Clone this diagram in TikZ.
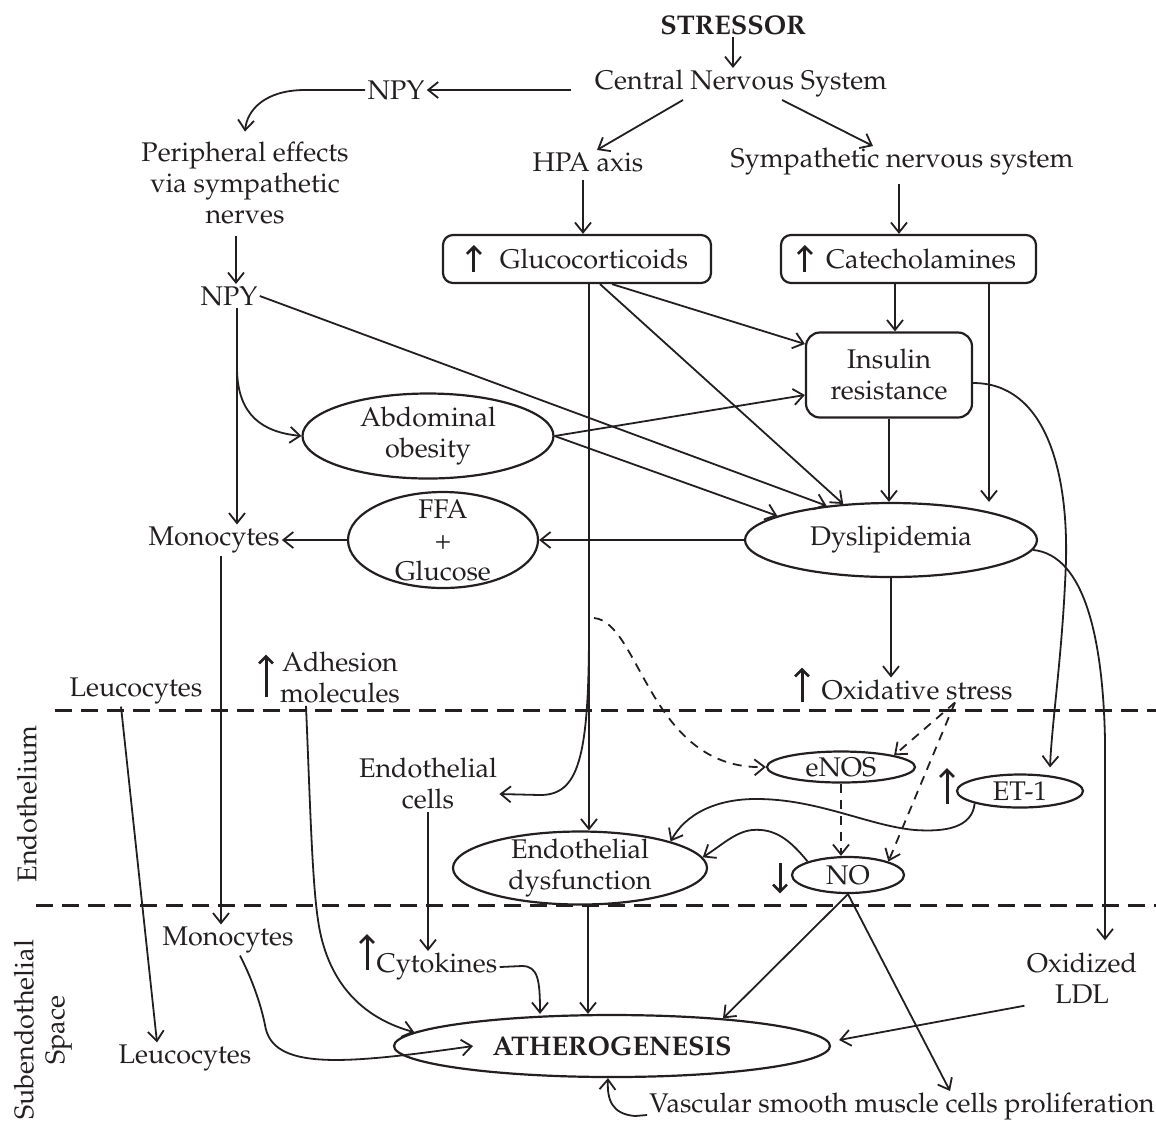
\documentclass[tikz,border=0pt]{standalone}
\usepackage[T1]{fontenc}
\usepackage{mathpazo}
\usepackage{amsmath}
\usetikzlibrary{shapes.geometric,arrows.meta}
\definecolor{ink}{RGB}{35,31,32}
\newcommand{\DiagFont}{\fontsize{13.5}{15.5}\selectfont}

\begin{document}
\begin{tikzpicture}[x=0.5pt,y=-0.5pt]
  \tikzset{TextStyle/.style = {
    shape         = rectangle,
    align         = center,
    text          = ink,
    inner sep     = 1pt,
    font          = \DiagFont
    }
  }
  \tikzset{BoxStyle/.style = {
    shape           = rectangle,
    rounded corners = 5pt,
    draw            = ink,
    line width      = 1.1pt,
    align           = center,
    text            = ink,
    inner sep       = 0pt,
    font            = \DiagFont
    }
  }
  \tikzset{EllipseStyle/.style = {
    shape         = ellipse,
    draw          = ink,
    line width    = 1.1pt,
    text          = ink,
    inner sep     = 0pt,
    font          = \DiagFont
    }
  }
  \tikzset{SlotStyle/.style = {
    shape         = rectangle,
    inner sep     = 0pt,
    minimum width = 0pt
    }
  }
  \tikzset{EdgeStyle/.style = {
    draw          = ink,
    line width    = 0.9pt,
    -{Straight Barb[length=5pt,width=8pt]}
    }
  }
  \tikzset{DashEdgeStyle/.style = {
    EdgeStyle,
    dash pattern  = on 4.5pt off 3.5pt
    }
  }
  \tikzset{TrendStyle/.style = {
    draw          = ink,
    line width    = 1.5pt,
    -{Straight Barb[length=3.5pt,width=7pt,line width=1.3pt]}
    }
  }
  \tikzset{LayerStyle/.style = {
    draw          = ink,
    line width    = 1.5pt,
    dash pattern  = on 8.5pt off 4.5pt
    }
  }

  \useasboundingbox (0,0) rectangle (1156,1132);

	% layers
	\draw[LayerStyle] (55,710) -- (1156,710);
	\draw[LayerStyle] (36,905) -- (1156,905);
	\node[TextStyle, rotate=90](endoLabel) at (27,804) {Endothelium};
	\node[TextStyle, rotate=90](subLabel) at (43,1030) {Subendothelial\\Space};

	\node[TextStyle, font=\DiagFont\bfseries](stressor) at (733,25) {STRESSOR};
	\node[TextStyle](cns) at (741,84) {Central Nervous System};
	\node[TextStyle](npyA) at (396,90) {NPY};
	\node[TextStyle](periph) at (245,183) {Peripheral effects\\via sympathetic\\nerves};
	\node[TextStyle](npyB) at (229,296) {NPY};
	\node[TextStyle](hpa) at (588,162) {HPA axis};
	\node[TextStyle](sns) at (902,162) {Sympathetic nervous system};
	\node[BoxStyle, minimum width=134pt, minimum height=24pt](gluco) at (577,259) {};
	\node[TextStyle](glucoText) at (594,259) {Glucocorticoids};
	\node[BoxStyle, minimum width=127.5pt, minimum height=24pt](catech) at (908.5,259) {};
	\node[TextStyle](catechText) at (921,259) {Catecholamines};
	\node[BoxStyle, minimum width=83pt, minimum height=42.5pt, rounded corners=7pt](insulin) at (889,375) {Insulin\\resistance};
	\node[EllipseStyle, minimum width=125.5pt, minimum height=42.5pt](abd) at (428,436) {};
	\node[TextStyle](abdText) at (428,436) {Abdominal\\obesity};
	\node[EllipseStyle, minimum width=95pt, minimum height=48pt](ffa) at (443,540) {};
	\node[TextStyle](ffaText) at (443,540) {FFA\\+\\Glucose};
	\node[EllipseStyle, minimum width=146pt, minimum height=37pt](dys) at (891,540) {Dyslipidemia};
	\node[TextStyle](mono1) at (214,540) {Monocytes};
	\node[TextStyle](leucoA) at (136,691) {Leucocytes};
	\node[SlotStyle, minimum height=21pt](adhUp) at (266,676) {};
	\node[TextStyle](adh) at (340,678) {Adhesion\\molecules};
	\node[SlotStyle, minimum height=17pt](oxUp) at (802,685) {};
	\node[TextStyle](ox) at (917,690) {Oxidative stress};
	\node[TextStyle](endoCells) at (428,784) {Endothelial\\cells};
	\node[EllipseStyle, minimum width=74pt, minimum height=15.5pt](enos) at (841,767) {eNOS};
	\node[SlotStyle, minimum height=17.5pt](etUp) at (947,786) {};
	\node[EllipseStyle, minimum width=63pt, minimum height=16.5pt](et) at (1020,791) {ET-1};
	\node[EllipseStyle, minimum width=127pt, minimum height=36.5pt](endoDys) at (580,868) {};
	\node[TextStyle](endoDysText) at (580,868) {Endothelial\\dysfunction};
	\node[SlotStyle, minimum height=15pt](noDown) at (780,878) {};
	\node[EllipseStyle, minimum width=56pt, minimum height=18pt](NO) at (848,875) {NO};
	\node[TextStyle](mono2) at (228,940) {Monocytes};
	\node[SlotStyle, minimum height=17.5pt](cytoUp) at (367,952) {};
	\node[TextStyle](cyto) at (437,967) {Cytokines};
	\node[TextStyle](oxldl) at (1082,978) {Oxidized\\LDL};
	\node[TextStyle](leucoB) at (185,1058) {Leucocytes};
	\node[EllipseStyle, minimum width=218pt, minimum height=31pt, font=\DiagFont\bfseries](ath) at (612,1046) {ATHEROGENESIS};
	\node[TextStyle](vsmc) at (902,1107) {Vascular smooth muscle cells proliferation};
	\coordinate (dashStart) at (594,618);

	% rise and fall marks
	\draw[TrendStyle]([xshift=16pt,yshift=-6.5pt]gluco.west) -- ([xshift=16pt,yshift=7pt]gluco.west);
	\draw[TrendStyle]([xshift=12.5pt,yshift=-6.5pt]catech.west) -- ([xshift=12.5pt,yshift=7pt]catech.west);
	\draw[TrendStyle](adhUp.south) -- (adhUp.north);
	\draw[TrendStyle](oxUp.south) -- (oxUp.north);
	\draw[TrendStyle](etUp.south) -- (etUp.north);
	\draw[TrendStyle](cytoUp.south) -- (cytoUp.north);
	\draw[TrendStyle](noDown.north) -- (noDown.south);

	\draw[EdgeStyle](stressor) -- (stressor |- cns.north);
	\draw[EdgeStyle, shorten <=11pt](cns.west |- npyA.east) -- (npyA.east);
	\draw[EdgeStyle](npyA.west) -- (305,90) .. controls (265,90) and (247,110) .. ([yshift=4pt]periph.north);
	\draw[EdgeStyle, shorten <=5pt]([xshift=-4.5pt]periph.south) -- ([xshift=-4.5pt]periph.south |- npyB.north);
	\draw[EdgeStyle]([xshift=-29pt]cns.south) -- ([xshift=4.5pt]hpa.north);
	\draw[EdgeStyle]([xshift=20.5pt]cns.south) -- ([xshift=-14.5pt]sns.north);
	\draw[EdgeStyle, shorten <=3pt]([xshift=-2.5pt]hpa.south) -- ([xshift=-2.5pt]hpa.south |- gluco.north);
	\draw[EdgeStyle, shorten <=3pt]([xshift=-1.5pt]sns.south) -- ([xshift=-1.5pt]sns.south |- catech.north);
	\draw[EdgeStyle]([xshift=3pt]insulin.north |- catech.south) -- ([xshift=3pt]insulin.north);
	\draw[EdgeStyle]([xshift=40.25pt]catech.south) -- ([xshift=40.25pt]catech.south |- dys.north);
	\draw[EdgeStyle](insulin.south) -- (insulin.south |- dys.north);
	\draw[EdgeStyle]([xshift=17.5pt]gluco.south) -- ([yshift=15.5pt]insulin.west);
	\draw[EdgeStyle]([xshift=11.5pt]gluco.south) -- (dys.143);
	\draw[EdgeStyle]([xshift=6pt]gluco.south) -- ([xshift=6pt]gluco.south |- endoDys.north);
	\draw[EdgeStyle]([xshift=6pt]gluco.south) -- (589,630) .. controls (589,760) and (578,795) .. (540,795) -- ([yshift=-5pt]endoCells.east);
	\draw[EdgeStyle](npyB.east) -- (dys.152);
	\draw[EdgeStyle](abd.east) -- ([yshift=-10pt]insulin.west);
	\draw[EdgeStyle](abd.east) -- (dys.168);
	\draw[EdgeStyle]([xshift=4pt]npyB.south) -- ([xshift=4pt]npyB.south |- mono1.north);
	\draw[EdgeStyle]([xshift=4pt]npyB.south) -- (237,370) .. controls (238,415) and (262,432) .. (abd.west);
	\draw[EdgeStyle](ffa.west) -- (mono1.east);
	\draw[EdgeStyle](dys.west) -- (ffa.east);
	\draw[EdgeStyle]([xshift=3.5pt]mono1.south) -- ([xshift=3.5pt]mono1.south |- mono2.north);
	\draw[EdgeStyle](dys.south) -- (dys.south |- ox.north);
	\draw[EdgeStyle]([yshift=-4pt]insulin.east) .. controls (1045,383) and (1068,470) .. (1066,560) .. controls (1063,650) and (1052,720) .. ([xshift=15pt,yshift=3pt]et.north);
	\draw[EdgeStyle](dys.-4) .. controls (1085,555) and (1103,640) .. (1105,740) -- ([xshift=11.5pt,yshift=5pt]oxldl.north);
	\draw[EdgeStyle](oxldl.south west) -- ([xshift=4pt,yshift=3pt]ath.east);
	\draw[DashEdgeStyle](dashStart) .. controls (640,622) and (650,770) .. (enos.west);
	\draw[DashEdgeStyle]([xshift=19pt]ox.south) -- (enos.north east);
	\draw[DashEdgeStyle]([xshift=19pt]ox.south) -- (NO.north east);
	\draw[DashEdgeStyle](enos.south) -- (enos.south |- NO.north);
	\draw[EdgeStyle](et.south west) .. controls (972,828) and (945,832) .. (915,830) .. controls (870,826) and (820,800) .. (760,799) .. controls (715,798) and (685,815) .. (endoDys.north east);
	\draw[EdgeStyle](NO.north west) .. controls (790,840) and (775,828) .. (752,830) .. controls (735,832) and (722,845) .. (endoDys.5);
	\draw[EdgeStyle](NO.south) -- (ath.14);
	\draw[EdgeStyle](NO.south) -- ([xshift=24pt]vsmc.north);
	\draw[EdgeStyle]([yshift=-4pt]vsmc.west) -- (635,1116) .. controls (612,1114) and (607,1100) .. ([xshift=-2pt]ath.south);
	\draw[EdgeStyle]([xshift=4pt]endoDys.south) -- ([xshift=4pt]endoDys.south |- ath.north);
	\draw[EdgeStyle](endoCells.south) -- (endoCells.south |- cyto.north);
	\draw[EdgeStyle](cyto.east) -- (522,966) .. controls (538,966) and (540,980) .. ([xshift=-36pt]ath.north);
	\draw[EdgeStyle]([xshift=6pt]mono2.south) .. controls (255,985) and (262,1010) .. (265,1025) .. controls (272,1070) and (340,1065) .. ([xshift=-69.5pt]ath.center);
	\draw[EdgeStyle]([xshift=-17pt]adh.south) .. controls (310,800) and (312,880) .. (318,920) .. controls (328,990) and (370,1020) .. (ath.176);
	\draw[EdgeStyle]([xshift=-7.5pt]leucoA.south) -- ([xshift=-14pt]leucoB.north);

  \end{tikzpicture}
\end{document}
